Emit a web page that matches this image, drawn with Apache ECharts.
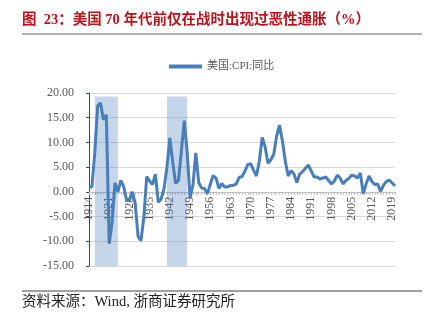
<!DOCTYPE html>
<html><head><meta charset="utf-8">
<script src="https://cdn.jsdelivr.net/npm/echarts@6/dist/echarts.min.js"></script>
<style>html,body{margin:0;padding:0;background:#fff}#c{width:427px;height:322px}</style>
</head><body><div id="c"></div>
<script>
const startYear = 1914, endYear = 2020;
const years = [];
for (let y = startYear; y <= endYear; y++) years.push(String(y));
const cpiYoY = [
 1.0, 1.0, 7.9, 17.4, 18.0, 14.6, 15.6, -10.5, -6.1, 1.8,
 0.0, 2.3, 1.1, -1.7, -1.7, 0.0, -2.3, -9.0, -9.9, -5.1,
 3.1, 2.2, 1.5, 3.6, -2.1, -1.4, 0.7, 5.0, 10.9, 6.1,
 1.7, 2.3, 8.3, 14.4, 8.1, -1.2, 1.3, 7.9, 1.9, 0.8,
 0.7, -0.4, 1.5, 3.3, 2.8, 0.7, 1.7, 1.0, 1.0, 1.3,
 1.3, 1.6, 2.9, 3.1, 4.2, 5.5, 5.7, 4.4, 3.2, 6.2,
 11.0, 9.1, 5.8, 6.5, 7.6, 11.3, 13.5, 10.3, 6.2, 3.2,
 4.3, 3.6, 1.9, 3.6, 4.1, 4.8, 5.4, 4.2, 3.0, 3.0,
 2.6, 2.8, 3.0, 2.3, 1.6, 2.2, 3.4, 2.8, 1.6, 2.3,
 2.7, 3.4, 3.2, 2.8, 3.8, -0.4, 1.6, 3.2, 2.1, 1.5,
 1.6, 0.1, 1.3, 2.1, 2.4, 1.8, 1.2
];
const warPeriods = [['1916', '1924'], ['1941', '1948']];
const shadeTop = 19.3, shadeBottom = -15.5;
const yTicks = { min: -15, max: 20, interval: 5 };
const seriesName = '美国:CPI:同比';

const gridTop = 93, gridBottom = 56, H = 322;
const plotH = H - gridTop - gridBottom;
const zeroOffset = -plotH * (0 - yTicks.min) / (yTicks.max - yTicks.min);

const chart = echarts.init(document.getElementById('c'));
const serif = '"Liberation Serif","Noto Sans CJK SC",serif';
chart.setOption({
  animation: false,
  grid: { left: 89, right: 32, top: gridTop, bottom: gridBottom },
  legend: {
    data: [seriesName], left: 164, top: 56,
    itemWidth: 33, itemHeight: 4, icon: 'rect', itemGap: 4,
    textStyle: { color: '#595959', fontSize: 11, fontFamily: serif }
  },
  graphic: [
    { type: 'text', left: 22, top: 13, style: { text: '图  23：美国 70 年代前仅在战时出现过恶性通胀（%）', fill: '#b8141c', font: 'bold 14.5px ' + serif } },
    { type: 'line', shape: { x1: 22, y1: 34, x2: 422, y2: 34 }, style: { stroke: '#666', lineWidth: 1.2 } },
    { type: 'line', shape: { x1: 22, y1: 291, x2: 422, y2: 291 }, style: { stroke: '#444', lineWidth: 1 } },
    { type: 'text', left: 22, top: 295, style: { text: '资料来源：Wind, 浙商证券研究所', fill: '#222', font: '14.5px ' + serif } }
  ],
  xAxis: {
    type: 'category', data: years, boundaryGap: false,
    offset: zeroOffset,
    axisLine: { onZero: false, lineStyle: { color: '#bfbfbf' } },
    axisTick: { show: true, interval: 0, length: 3, lineStyle: { color: '#bfbfbf' } },
    axisLabel: { interval: 6, rotate: 90, color: '#595959', fontSize: 12, fontFamily: serif, margin: 5 },
    splitLine: { show: false }
  },
  yAxis: {
    type: 'value', min: yTicks.min, max: yTicks.max, interval: yTicks.interval,
    axisLine: { show: true, lineStyle: { color: '#2a4a7a' } },
    axisTick: { show: true, length: 3, lineStyle: { color: '#2a4a7a' } },
    axisLabel: { color: '#595959', fontSize: 12, fontFamily: serif, margin: 15, formatter: v => v.toFixed(2) },
    splitLine: { lineStyle: { color: '#d9d9d9', width: 1 } }
  },
  series: [{
    name: seriesName, type: 'line', data: cpiYoY, showSymbol: false, symbol: 'none',
    lineStyle: { color: '#4a7ebb', width: 3 }, itemStyle: { color: '#4a7ebb' },
    markArea: {
      silent: true, itemStyle: { color: 'rgba(79,129,189,0.32)' },
      data: warPeriods.map(p => [{ xAxis: p[0], yAxis: shadeTop }, { xAxis: p[1], yAxis: shadeBottom }])
    }
  }]
});
</script></body></html>
